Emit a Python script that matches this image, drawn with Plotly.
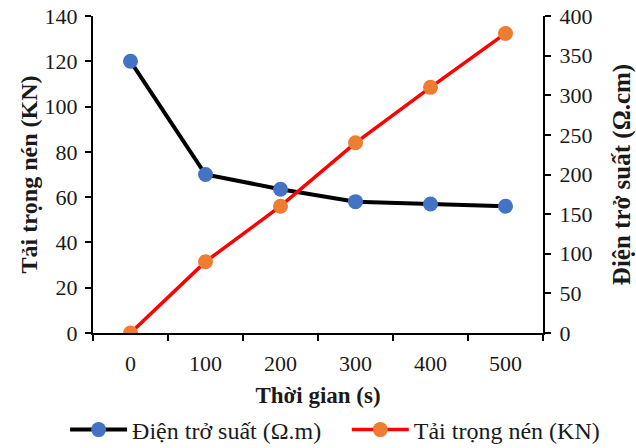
import plotly.graph_objects as go

# Time steps (s)
time_s = ["0", "100", "200", "300", "400", "500"]
# Resistivity series (plotted against the left axis)
resistivity = [120, 70, 63.5, 58, 57, 56]
# Compressive load series (plotted against the right axis)
load_kn = [0, 90, 160, 240, 310, 378]

left_ticks = [0, 20, 40, 60, 80, 100, 120, 140]
right_ticks = [0, 50, 100, 150, 200, 250, 300, 350, 400]

FONT = "Liberation Serif"
INK = "#1a1a1a"

fig = go.Figure()
fig.add_trace(go.Scatter(
    x=time_s, y=resistivity, name="Điện trở suất (Ω.m)",
    mode="lines+markers",
    line=dict(color="black", width=4),
    marker=dict(color="#4472C4", size=15),
    yaxis="y", legend="legend", showlegend=True,
))
fig.add_trace(go.Scatter(
    x=time_s, y=load_kn, name="Tải trọng nén (KN)",
    mode="lines+markers",
    line=dict(color="#FF0000", width=3.5),
    marker=dict(color="#ED7D31", size=15),
    yaxis="y2", legend="legend2", showlegend=True,
))

axis_common = dict(
    showgrid=False, zeroline=False, showline=True,
    linecolor="black", linewidth=2,
    ticks="outside", ticklen=6, tickwidth=2, tickcolor="black",
    tickfont=dict(family=FONT, size=22, color=INK),
)

legend_common = dict(
    orientation="h", yanchor="middle", y=-0.306, xanchor="left",
    font=dict(family=FONT, size=24, color=INK),
    itemwidth=57, bgcolor="rgba(0,0,0,0)", visible=True,
)

fig.update_layout(
    width=636, height=448,
    showlegend=True,
    margin=dict(l=93, r=93, t=16, b=115, autoexpand=False),
    paper_bgcolor="white", plot_bgcolor="white",
    font=dict(family=FONT, color=INK),
    xaxis=dict(
        **axis_common,
        type="category", tickson="boundaries", range=[-0.5, 5.5],
        ticklabelstandoff=10,
        title=dict(text="<b>Thời gian (s)</b>",
                   font=dict(family=FONT, size=23, color=INK), standoff=11),
    ),
    yaxis=dict(
        **axis_common,
        range=[0, 140], tickvals=left_ticks, ticklabelstandoff=3,
        title=dict(text="<b>Tải trọng nén (KN)</b>",
                   font=dict(family=FONT, size=24, color=INK), standoff=0),
    ),
    yaxis2=dict(
        **axis_common,
        overlaying="y", side="right",
        range=[0, 400], tickvals=right_ticks, ticklabelstandoff=4,
        title=dict(text="<b>Điện trở suất (Ω.cm)</b>",
                   font=dict(family=FONT, size=25, color=INK), standoff=37),
    ),
    legend=dict(**legend_common, x=-0.062),
    legend2=dict(**legend_common, x=0.564),
)

fig.write_html("out.html")
